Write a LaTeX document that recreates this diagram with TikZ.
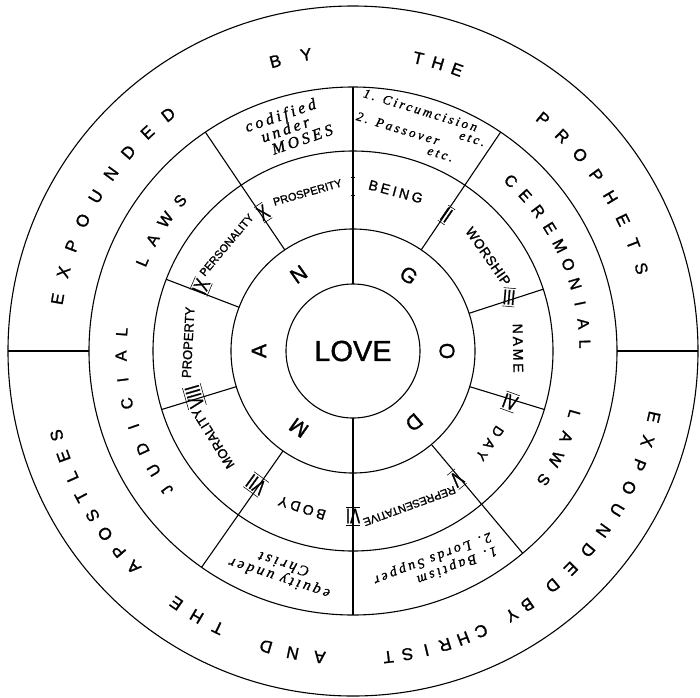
\documentclass[tikz,border=0pt]{standalone}
\usepackage{graphicx}
\usepackage{fontspec}
\setmainfont{Liberation Sans}[FakeBold=1.3]
\newfontfamily\notefont{Liberation Serif}[LetterSpace=20,FakeBold=1.2]
\usetikzlibrary{calc}

\newcommand{\rom}[1]{\scalebox{1}[1.4]{$\overline{\underline{\hbox{#1}}}$}}
% one letter after the other round the ring, clockwise, tops outward
\newcommand{\arcword}[6]{%
  \foreach \ch [count=\i from 0] in {#6}{%
    \pgfmathsetmacro{\ang}{#4-#5*\i}%
    \node[#1,rotate=\ang-90] (#2-\i) at (\ang:#3) {\ch};}}
\newcommand{\cmdword}[5]{%
  \node[word,rotate=#2-90] (#1) at (#2:165)
    {\fontsize{#3}{#3}\selectfont\addfontfeature{LetterSpace=#4}#5};}

\begin{document}
\begin{tikzpicture}[x=1pt,y=1pt,line width=1.1pt,
  ring/.style={circle,draw,inner sep=0pt,outer sep=0pt},
  bigletter/.style={inner sep=0pt,font=\fontsize{17}{17}\selectfont},
  lawletter/.style={inner sep=0pt,font=\fontsize{16}{16}\selectfont},
  godletter/.style={inner sep=0pt,font=\fontsize{21}{21}\selectfont},
  word/.style={inner sep=0pt},
  numeral/.style={inner sep=0pt,font=\fontsize{15}{15}\selectfont},
  note/.style={align=center,inner sep=0pt,font=\notefont\itshape}]
  \useasboundingbox (-353,-346) rectangle (347,351);

  % rings
  \node[ring,minimum size=690pt] (rim) at (0,0) {};
  \node[ring,minimum size=528pt] (lawring) at (0,0) {};
  \node[ring,minimum size=400pt] (cmdring) at (0,0) {};
  \node[ring,minimum size=244pt] (godring) at (0,0) {};
  \node[ring,minimum size=134pt,font=\fontsize{29}{29}\selectfont] (love) at (0,0) {LOVE};

  % spokes
  \foreach \a in {90,270} \draw (love.\a) -- (lawring.\a);
  \foreach \a in {56,124,235,310} \draw (godring.\a) -- (lawring.\a);
  \foreach \a in {18,343,197,159} \draw (godring.\a) -- (cmdring.\a);
  \foreach \a in {0,180} \draw (lawring.\a) -- (rim.\a);

  % outer ring
  \arcword{bigletter}{exa}{300}{170}{5.25}{E,X,P,O,U,N,D,E,D}
  \arcword{bigletter}{bya}{300}{105}{6}{B,Y}
  \arcword{bigletter}{thea}{300}{77.4}{3.85}{T,H,E}
  \arcword{bigletter}{prophets}{300}{50.7}{4.96}{P,R,O,P,H,E,T,S}
  \arcword{bigletter}{exb}{308}{-12.4}{4.65}{E,X,P,O,U,N,D,E,D}
  \arcword{bigletter}{byb}{308}{-55.5}{3.5}{B,Y}
  \arcword{bigletter}{christ}{308}{-65.4}{3.6}{C,H,R,I,S,T}
  \arcword{bigletter}{and}{308}{-96.2}{5.1}{A,N,D}
  \arcword{bigletter}{theb}{308}{-116}{4.5}{T,H,E}
  \arcword{bigletter}{apostles}{308}{-135.4}{4.1}{A,P,O,S,T,L,E,S}

  % laws ring
  \arcword{lawletter}{judicial}{232}{216.8}{5.93}{J,U,D,I,C,I,A,L}
  \arcword{lawletter}{lawsa}{229}{157}{6}{L,A,W,S}
  \arcword{lawletter}{ceremonial}{232}{47.1}{5.04}{C,E,R,E,M,O,N,I,A,L}
  \arcword{lawletter}{lawsb}{230}{-16}{6}{L,A,W,S}
  \node[note,rotate=19,font=\notefont\itshape\fontsize{16}{15}\selectfont] (moses) at (107:232)
    {codified\\under\\\hspace*{1.6em}MOSES};
  \node[note,rotate=-17,align=left,font=\notefont\itshape\fontsize{13}{12}\selectfont] (ceremonies) at (73:232)
    {1. Circumcision\\\hspace*{8em}etc.\\2. Passover\\\hspace*{6em}etc.};
  \node[note,rotate=162,font=\notefont\itshape\fontsize{15}{15}\selectfont] (equity) at (252:232)
    {equity under\\Christ};
  \node[note,rotate=201,align=left,font=\notefont\itshape\fontsize{14}{15}\selectfont] (sacraments) at (291:229)
    {1. Baptism\\2. Lords Supper};

  % commandments
  \cmdword{being}{75}{14}{21}{BEING}
  \cmdword{worship}{35}{13.5}{4}{WORSHIP}
  \cmdword{name}{1}{14}{20}{NAME}
  \cmdword{day}{-34}{14}{38}{DAY}
  \cmdword{representative}{-70}{11}{0}{REPRESENTATIVE}
  \cmdword{body}{252}{14}{22}{BODY}
  \cmdword{morality}{212}{13}{2}{MORALITY}
  \cmdword{property}{177}{13}{0}{PROPERTY}
  \cmdword{personality}{140}{11}{0}{PERSONALITY}
  \cmdword{prosperity}{106}{11}{0}{PROSPERITY}
  \foreach \n/\a/\r in {I/90/0,II/55.5/-34.5,III/19/-5,IV/-18/-20,V/-51/-141,
      VI/270/180,VII/234/144,VIII/196/106,IX/157/67,X/123/33}
    \node[numeral,rotate=\r] (num\n) at (\a:165) {\rom{\n}};

  % god and man
  \foreach \l/\a in {G/53.6,O/0,D/-49.5,M/234.8,A/180,N/125.3}
    \node[godletter,rotate=\a-90] (god\l) at (\a:94) {\l};
\end{tikzpicture}
\end{document}
